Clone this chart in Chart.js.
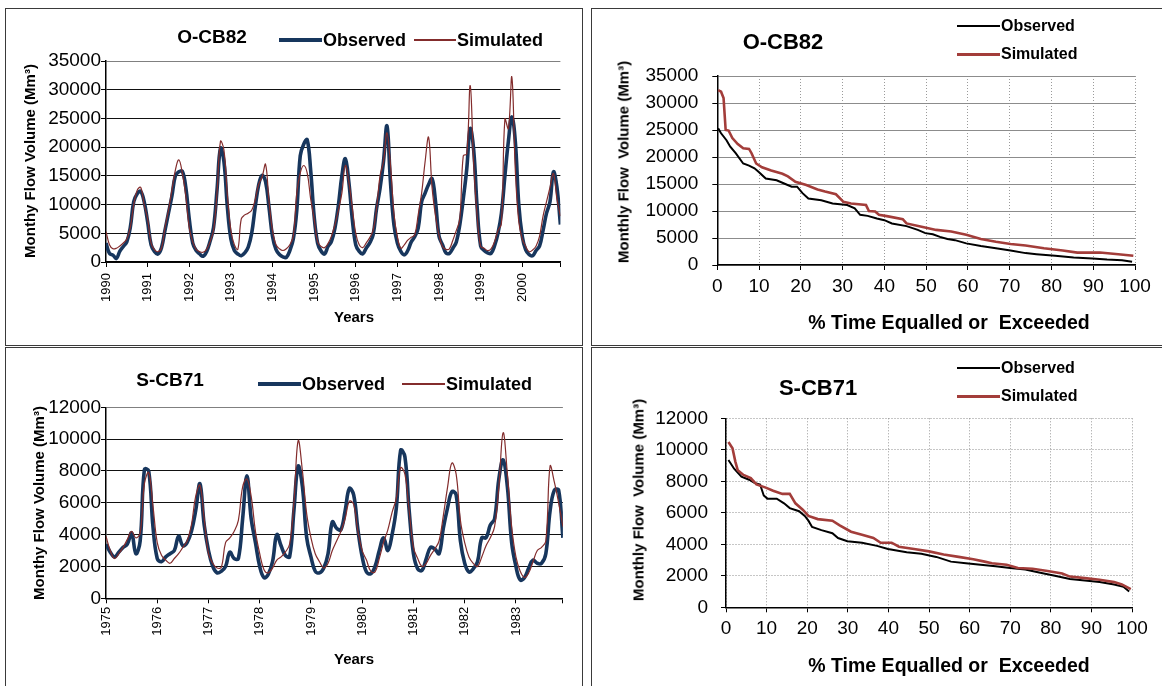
<!DOCTYPE html>
<html>
<head>
<meta charset="utf-8">
<title>Observed and simulated monthly flows</title>
<script src="https://cdn.jsdelivr.net/npm/chart.js@4.4.1/dist/chart.umd.min.js"></script>
<style>
  html, body { margin: 0; padding: 0; background: #fff; }
  body { width: 1162px; height: 686px; position: relative; overflow: hidden;
         font-family: 'Liberation Sans', Arial, Helvetica, sans-serif; color: #000; }
  .panel { position: absolute; border: 1px solid #3a3a3a; box-sizing: border-box; }
  canvas { position: absolute; }
  .lbl { position: absolute; font-weight: bold; white-space: pre; line-height: 1;
         transform: translate(-50%, -50%); }
  .ylbl { transform: translate(-50%, -50%) rotate(-90deg); }
  .key { position: absolute; display: flex; align-items: center; font-weight: bold;
         white-space: nowrap; line-height: 1; transform: translateY(-50%); }
  .key i { display: inline-block; margin-right: 1px; }
</style>
</head>
<body>
  <div class="panel" style="left:5px;top:8px;width:578px;height:338px"></div>
  <div class="panel" style="left:591px;top:8px;width:575px;height:338px"></div>
  <div class="panel" style="left:5px;top:347px;width:578px;height:345px"></div>
  <div class="panel" style="left:591px;top:347px;width:575px;height:345px"></div>

  <canvas id="ocbSeries" width="576" height="336" style="left:6px;top:9px"></canvas>
  <canvas id="ocbDuration" width="569" height="336" style="left:593px;top:9px"></canvas>
  <canvas id="scbSeries" width="576" height="337" style="left:6px;top:349px"></canvas>
  <canvas id="scbDuration" width="569" height="337" style="left:593px;top:349px"></canvas>

  <!-- O-CB82 monthly -->
  <div class="lbl" style="left:212px;top:36px;font-size:19px">O-CB82</div>
  <div class="key" style="left:279px;top:40px;font-size:18px"><i style="width:43px;height:4px;background:#17365d"></i>Observed</div>
  <div class="key" style="left:414px;top:40px;font-size:18px"><i style="width:42px;height:1.5px;background:#832c2c"></i>Simulated</div>
  <div class="lbl ylbl" style="left:29px;top:161px;font-size:15px">Monthy Flow Volume (Mm³)</div>
  <div class="lbl" style="left:354px;top:316px;font-size:15px">Years</div>

  <!-- O-CB82 duration -->
  <div class="lbl" style="left:783px;top:42px;font-size:22px">O-CB82</div>
  <div class="key" style="left:957px;top:26px;font-size:16px"><i style="width:43px;height:2.5px;background:#000"></i>Observed</div>
  <div class="key" style="left:957px;top:54px;font-size:16px"><i style="width:43px;height:3px;background:#a33d3a"></i>Simulated</div>
  <div class="lbl ylbl" style="left:623px;top:162px;font-size:15px">Monthly Flow  Volume (Mm³)</div>
  <div class="lbl" style="left:949px;top:323px;font-size:19.5px">% Time Equalled or  Exceeded</div>

  <!-- S-CB71 monthly -->
  <div class="lbl" style="left:170px;top:379px;font-size:19px">S-CB71</div>
  <div class="key" style="left:258px;top:384px;font-size:18px"><i style="width:43px;height:4px;background:#17365d"></i>Observed</div>
  <div class="key" style="left:402px;top:384px;font-size:18px"><i style="width:43px;height:1.5px;background:#832c2c"></i>Simulated</div>
  <div class="lbl ylbl" style="left:38px;top:503px;font-size:15px">Monthy Flow Volume (Mm³)</div>
  <div class="lbl" style="left:354px;top:658px;font-size:15px">Years</div>

  <!-- S-CB71 duration -->
  <div class="lbl" style="left:818px;top:388px;font-size:22px">S-CB71</div>
  <div class="key" style="left:957px;top:368px;font-size:16px"><i style="width:43px;height:2.5px;background:#000"></i>Observed</div>
  <div class="key" style="left:957px;top:396px;font-size:16px"><i style="width:43px;height:3px;background:#a33d3a"></i>Simulated</div>
  <div class="lbl ylbl" style="left:638px;top:500px;font-size:15px">Monthly Flow  Volume (Mm³)</div>
  <div class="lbl" style="left:949px;top:666px;font-size:19.5px">% Time Equalled or  Exceeded</div>

<script>
// O-CB82, monthly volumes Jan 1990 - Dec 2000 (Mm3)
const ocbYears = ['1990', '1991', '1992', '1993', '1994', '1995', '1996', '1997', '1998', '1999', '2000'];
const ocbObserved = [
  3300, 1500, 1200, 600, 1900, 2700, 3500, 6000, 10500, 11900, 12300, 10500,
  7000, 3000, 1800, 1400, 2500, 5500, 8500, 11500, 15000, 15700, 15800, 13000,
  7500, 3300, 2000, 1400, 1000, 1800, 3600, 6000, 12500, 19800, 17500, 9500,
  4000, 2000, 1400, 1100, 1600, 2600, 5000, 9500, 13400, 15100, 14000, 9500,
  4500, 2200, 1300, 900, 800, 2000, 4000, 9000, 18500, 20500, 21300, 16000,
  8000, 3300, 1900, 1400, 2700, 3600, 5900, 9900, 15000, 18000, 14000, 7500,
  3000, 1850, 1400, 2400, 3300, 4700, 9300, 12800, 17500, 23700, 14000, 6500,
  3300, 1850, 1250, 2000, 3500, 4400, 5900, 10500, 12000, 13500, 14500, 10500,
  4500, 3000, 1600, 1500, 2400, 3500, 6500, 11000, 16200, 23200, 19500, 9500,
  2800, 2000, 1600, 1500, 2800, 5000, 8500, 15000, 21000, 25300, 21000, 10000,
  4500, 2100, 1300, 1100, 2000, 2800, 5500, 8500, 10500, 15700, 13000, 6500
];
const ocbSimulated = [
  5300, 3000, 2300, 2400, 2800, 3300, 4000, 6000, 10000, 12500, 13000, 10000,
  7500, 3300, 2100, 1800, 2400, 6000, 9000, 12500, 16000, 17800, 15500, 11500,
  6000, 3500, 2200, 1800, 1700, 2200, 3500, 5500, 12000, 21000, 19500, 11600,
  5500, 3000, 2200, 7500, 8200, 8500, 9000, 10800, 13500, 14800, 17000, 10500,
  5500, 3000, 2300, 2000, 2300, 3000, 4500, 12000, 15500, 16800, 15500, 11000,
  7500, 3500, 2700, 2500, 3200, 4500, 6500, 9000, 12000, 16800, 14000, 9500,
  5000, 3000, 2500, 3300, 4200, 5500, 9300, 15000, 17500, 22500, 17000, 8500,
  4400, 2400, 3000, 3800, 4300, 4700, 8200, 12000, 17500, 21700, 13000, 8000,
  4700, 2700, 2200, 2300, 3800, 5500, 7500, 18500, 18800, 30700, 17000, 8000,
  2700, 2400, 2000, 2300, 3500, 5500, 6700, 24900, 23200, 32200, 16000, 7000,
  4000, 2700, 1800, 2100, 2800, 4500, 8000, 10500, 13000, 15400, 11000, 8000
];

// S-CB71, monthly volumes Jan 1975 - Dec 1983 (Mm3)
const scbYears = ['1975', '1976', '1977', '1978', '1979', '1980', '1981', '1982', '1983'];
const scbObserved = [
  3400, 2900, 2600, 2900, 3200, 3400, 4100, 2800, 3600, 8100, 8000, 4500,
  2500, 2300, 2600, 2800, 3000, 3900, 3300, 3500, 4200, 5500, 7200, 4600,
  3000, 2000, 1600, 1700, 2000, 2900, 2500, 2500, 5000, 7700, 5000, 3500,
  2000, 1300, 1500, 2300, 4000, 3300, 2700, 2600, 5500, 8300, 7000, 3800,
  2600, 1700, 1600, 1900, 2800, 4800, 4400, 4300, 5500, 6900, 6500, 4300,
  2600, 1650, 1550, 2000, 3000, 3800, 3000, 4000, 5700, 9300, 8900, 5500,
  2800, 1850, 1750, 2500, 3200, 3100, 2800, 4400, 5700, 6700, 6500, 3600,
  2200, 1650, 1850, 2300, 3800, 3800, 4600, 5000, 7500, 8700, 7000, 3500,
  2000, 1150, 1300, 1900, 2400, 2200, 2200, 2800, 5500, 6800, 6800, 3800
];
const scbSimulated = [
  3900, 3000, 2500, 2800, 3200, 3700, 4200, 3800, 4100, 7200, 7900, 5800,
  3500, 2700, 2400, 2200, 2500, 2800, 3200, 3600, 4600, 6400, 7100, 5000,
  2800, 2200, 1900, 1950, 3500, 3800, 4200, 4900, 7000, 7500, 6400, 4200,
  2800, 1800, 1600, 1900, 2400, 2600, 2900, 3400, 6000, 9900, 8000, 5300,
  3800, 2800, 2300, 1900, 2200, 3000, 3600, 4200, 5000, 6100, 5900, 4200,
  3000, 2400, 1700, 1650, 2500, 3500, 4300, 5400, 6300, 8200, 7800, 5500,
  3200, 2500, 2000, 2200, 2700, 3100, 3600, 5200, 7000, 8500, 7800, 4900,
  3500, 2600, 2200, 2000, 2600, 3300, 3800, 4500, 7000, 10400, 7800, 4500,
  2600, 1700, 1300, 1600, 2300, 3000, 3200, 3600, 8300, 7300, 6000, 4500
];

// flow duration curves: % of time equalled or exceeded vs monthly volume
const ocbDurPctObs = [0.2, 0.9, 2.2, 3.1, 4.4, 6.2, 7.6, 8.9, 9.8, 11.6, 14.2, 16, 17.8, 19.1, 20.4, 21.8, 24.9, 27.6, 31.1, 32.9, 34.2, 36, 38.2, 40, 41.8, 45.3, 48, 49.8, 51.6, 53.3, 55.1, 56.9, 59.6, 63.1, 66.7, 70.2, 73.8, 76.4, 80.9, 85.3, 89.8, 93.3, 96.9, 98.5, 99.3];
const ocbDurObs = [25300, 24400, 23100, 21900, 20700, 18800, 18400, 17900, 17300, 16000, 15700, 15100, 14500, 14500, 13300, 12300, 12000, 11400, 11100, 10500, 9300, 9100, 8600, 8300, 7700, 7200, 6500, 5900, 5700, 5200, 4800, 4600, 4000, 3500, 3100, 2700, 2200, 2000, 1700, 1400, 1200, 1000, 900, 700, 600];
const ocbDurPctSim = [0.2, 0.9, 1.5, 2, 2.7, 3.6, 4.9, 6.2, 7.6, 8.2, 9.3, 10.7, 12.9, 15.6, 16.9, 18.7, 21.3, 24, 25.8, 28.4, 30.2, 32, 35.6, 36.3, 37.8, 38.7, 40.9, 44.4, 45.3, 48.9, 52.4, 56, 59.6, 63.1, 66.7, 70.2, 73.8, 78.2, 82.7, 86.2, 91.6, 96, 99.6];
const ocbDurSim = [32400, 32100, 30900, 25000, 24900, 23500, 22400, 21600, 21500, 20700, 18800, 18100, 17500, 16900, 16400, 15400, 14800, 14000, 13600, 13100, 11700, 11400, 11100, 10000, 9900, 9300, 9000, 8500, 7700, 7100, 6500, 6200, 5600, 4800, 4300, 3900, 3600, 3100, 2700, 2300, 2300, 2000, 1700];

const scbDurPctObs = [0.6, 2, 3.8, 5.7, 7, 8.4, 9.3, 10.2, 12.5, 14.3, 15.7, 18, 19.4, 20.3, 21.2, 23.5, 26.2, 27.6, 29.9, 33.5, 37.2, 39.9, 44.5, 48.1, 51.8, 55.4, 59.1, 62.7, 66.4, 70, 73.7, 77.4, 81, 84.7, 88.4, 92, 95.6, 97.9, 99.3];
const scbDurObs = [9350, 8800, 8300, 8100, 7900, 7800, 7100, 6900, 6900, 6600, 6300, 6100, 5800, 5500, 5100, 4900, 4700, 4400, 4200, 4100, 3900, 3700, 3500, 3400, 3200, 2900, 2800, 2700, 2600, 2500, 2400, 2200, 2000, 1800, 1700, 1600, 1450, 1300, 1000];
const scbDurPctSim = [0.6, 1.6, 2.3, 2.9, 4.3, 6.1, 7.5, 9.8, 11.6, 13.9, 15.7, 17.1, 18.9, 20.3, 22.6, 26.2, 28, 30.8, 33.5, 36.3, 38.1, 40.8, 42.6, 46.3, 50, 53.6, 57.3, 60.9, 63.7, 65.5, 69.1, 71.9, 75.5, 79.2, 82.8, 84.7, 88.4, 92, 95.6, 97.5, 99.7];
const scbDurSim = [10500, 10100, 9250, 8700, 8400, 8200, 7800, 7600, 7400, 7200, 7200, 6600, 6200, 5800, 5600, 5500, 5200, 4800, 4600, 4400, 4100, 4100, 3850, 3700, 3550, 3350, 3200, 3050, 2900, 2800, 2700, 2500, 2450, 2300, 2150, 1950, 1850, 1750, 1600, 1450, 1150];

const OBS_NAVY = '#17365d';
const SIM_THIN = '#832c2c';
const SIM_DUR = '#a33d3a';

Chart.defaults.font.family = "'Liberation Sans', Arial, sans-serif";
Chart.defaults.color = '#000';
Chart.defaults.animation = false;
Chart.defaults.plugins.legend.display = false;
Chart.defaults.plugins.tooltip.enabled = false;
Chart.defaults.elements.point.radius = 0;

// the plot area is pinned by forcing the axis box sizes in afterFit
// area = {left, top, right, bottom} in canvas pixels
const seriesChart = (id, years, observed, simulated, yMax, yStep, area, yearPad) => {
    const canvas = document.getElementById(id);
    const w = canvas.width, h = canvas.height;
    const last = observed.length - 1;
    const tickVals = years.map((_, k) => k * 12).concat([last]);
    return new Chart(canvas, {
        type: 'line',
        data: {
            labels: observed.map((_, i) => i),
            datasets: [
                { data: simulated, borderColor: SIM_THIN, borderWidth: 1.2, tension: 0.4 },
                { data: observed, borderColor: OBS_NAVY, borderWidth: 3.6, tension: 0.4 }
            ]
        },
        options: {
            responsive: false,
            layout: { padding: { left: 4, top: area.top, right: w - area.right, bottom: 0 } },
            scales: {
                x: {
                    type: 'linear', min: 0, max: last,
                    afterBuildTicks: s => { s.ticks = tickVals.map(v => ({ value: v })); },
                    afterFit: s => { s.height = h - area.bottom; },
                    ticks: {
                        autoSkip: false, minRotation: 90, maxRotation: 90,
                        padding: yearPad, font: { size: 13 },
                        callback: v => years[v / 12] || ''
                    },
                    grid: { drawOnChartArea: false, tickLength: 5, tickColor: '#000' },
                    border: { color: '#000', width: 1.5 }
                },
                y: {
                    min: 0, max: yMax,
                    afterFit: s => { s.width = area.left - 4; },
                    ticks: { stepSize: yStep, padding: 0, font: { size: 19 }, callback: v => String(v) },
                    grid: {
                        color: c => c.tick && c.tick.value === yMax ? '#808080' : '#111',
                        lineWidth: 1, tickLength: 5, tickColor: '#000'
                    },
                    border: { color: '#000', width: 1.5 }
                }
            }
        }
    });
};

const durationChart = (id, pctObs, valObs, pctSim, valSim, yMax, yStep, area, yPad, xPad, hDash) => {
    const canvas = document.getElementById(id);
    const w = canvas.width, h = canvas.height;
    return new Chart(canvas, {
        type: 'line',
        data: {
            datasets: [
                { data: pctSim.map((p, i) => ({ x: p, y: valSim[i] })), borderColor: SIM_DUR, borderWidth: 2.6, tension: 0 },
                { data: pctObs.map((p, i) => ({ x: p, y: valObs[i] })), borderColor: '#000', borderWidth: 2, tension: 0 }
            ]
        },
        options: {
            responsive: false,
            layout: { padding: { left: 4, top: area.top, right: w - area.right, bottom: 0 } },
            scales: {
                x: {
                    type: 'linear', min: 0, max: 100,
                    afterFit: s => { s.height = h - area.bottom; },
                    ticks: { stepSize: 10, padding: xPad, font: { size: 19 } },
                    grid: { color: '#9a9a9a', lineWidth: 1, tickLength: 5, tickColor: '#000' },
                    border: { color: '#000', width: 1.5, dash: [1, 2] }
                },
                y: {
                    min: 0, max: yMax,
                    afterFit: s => { s.width = area.left - 4; },
                    ticks: { stepSize: yStep, padding: yPad, font: { size: 19 }, callback: v => String(v) },
                    grid: { color: '#8c8c8c', lineWidth: 1, tickLength: 5, tickColor: '#000' },
                    border: { color: '#000', width: 1.5, dash: hDash }
                }
            }
        }
    });
};

seriesChart('ocbSeries', ocbYears, ocbObserved, ocbSimulated, 35000, 5000,
    { left: 100, top: 52, right: 566.5, bottom: 253 }, 6);
seriesChart('scbSeries', scbYears, scbObserved, scbSimulated, 12000, 2000,
    { left: 100, top: 58.3, right: 566, bottom: 249.3 }, 3.5);
durationChart('ocbDuration', ocbDurPctObs, ocbDurObs, ocbDurPctSim, ocbDurSim, 35000, 5000,
    { left: 124.3, top: 67, right: 542, bottom: 256 }, 14, 5.6, []);
durationChart('scbDuration', scbDurPctObs, scbDurObs, scbDurPctSim, scbDurSim, 12000, 2000,
    { left: 133, top: 69.3, right: 539, bottom: 258.3 }, 13, 5.3, [1, 2]);
</script>
</body>
</html>
